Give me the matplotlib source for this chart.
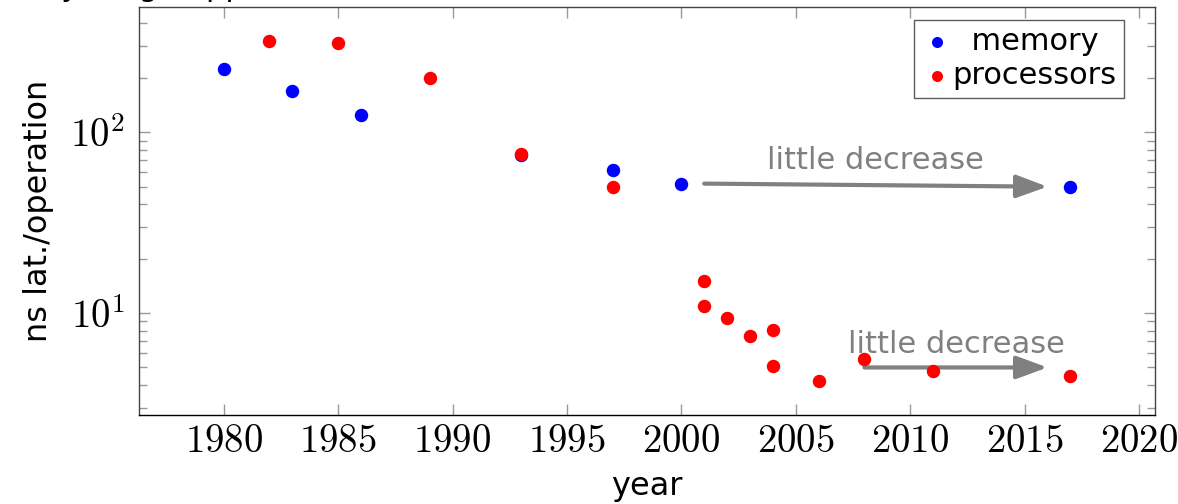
import matplotlib
matplotlib.use("Agg")
import matplotlib.pyplot as plt
from matplotlib.ticker import FuncFormatter, LogLocator, NullFormatter
import numpy as np

plt.rcParams["mathtext.fontset"] = "cm"
plt.rcParams["font.family"] = ["DejaVu Sans"]

# memory latency (ns) by year
mem_years = [1980, 1983, 1986, 1993, 1997, 2000, 2017]
mem_lat = [224, 170, 125, 75, 62, 52, 50]

# processor latency per operation (ns) by year
proc_years = [1982, 1985, 1989, 1993, 1997, 2001, 2001, 2002, 2003, 2004, 2004, 2006, 2008, 2011, 2017]
proc_lat = [319, 312, 199, 76, 50, 15, 11, 9.4, 7.5, 8.1, 5.1, 4.2, 5.6, 4.75, 4.5]

x_ticks = [1980, 1985, 1990, 1995, 2000, 2005, 2010, 2015, 2020]

# (start year, start value, end year, end value) for the two arrows
arrow_mem = (2001, 52, 2016, 50)
arrow_proc = (2008, 5.0, 2016, 5.0)
note_text = "little decrease"

fig = plt.figure(figsize=(11.78, 5.04), dpi=100)
ax = fig.add_axes([0.118, 0.1766, 0.8625, 0.8095])

ax.scatter(mem_years, mem_lat, s=75, color="blue", label="  memory", zorder=3)
ax.scatter(proc_years, proc_lat, s=75, color="red", label="processors", zorder=4)

ax.set_yscale("log")
ax.set_xlim(1976.3, 2020.7)
ax.set_ylim(10 ** 0.436, 10 ** 2.693)

ax.set_xticks(x_ticks)
ax.xaxis.set_major_formatter(FuncFormatter(lambda v, p: "$%d$" % v))
ax.yaxis.set_major_locator(LogLocator(base=10))
ax.yaxis.set_major_formatter(FuncFormatter(lambda v, p: "$10^{%d}$" % round(np.log10(v))))
ax.yaxis.set_minor_locator(LogLocator(base=10, subs=range(2, 10)))
ax.yaxis.set_minor_formatter(NullFormatter())

ax.tick_params(which="both", direction="in", color="#999999", width=1,
               top=True, right=True, labelsize=28)
ax.tick_params(axis="x", pad=5)
ax.tick_params(axis="y", pad=10)
ax.tick_params(which="major", length=8)
ax.tick_params(which="minor", length=5.5)
for s in ax.spines.values():
    s.set_color("#444444")
    s.set_linewidth(1)
ax.spines["bottom"].set_color("black")

ax.set_xlabel("year", fontsize=23, labelpad=8)
ax.set_ylabel("ns lat./operation", fontsize=23, labelpad=12)

for x0, y0, x1, y1 in (arrow_mem, arrow_proc):
    ax.annotate("", xy=(x1, y1), xytext=(x0, y0),
                arrowprops=dict(arrowstyle="-|>,head_length=1.9,head_width=0.7",
                                mutation_scale=10, color="gray", lw=3,
                                shrinkA=0, shrinkB=0), zorder=2)
    ax.text((x0 + x1) / 2, y0 * 1.12, note_text, color="gray", fontsize=22,
            ha="center", va="bottom", zorder=2)

leg = ax.legend(loc="upper right", bbox_to_anchor=(0.9695, 0.969), fontsize=22,
                frameon=True, fancybox=False, handletextpad=0.0,
                borderpad=0.25, labelspacing=0.15, handlelength=1.0,
                borderaxespad=0.0, markerscale=0.8)
leg.get_frame().set_edgecolor("#333333")
leg.get_frame().set_linewidth(1)

# heading above the plot, mostly cut off at the top edge as in the original
fig.text(0.0, 1.0 + 3.5 / 504, "(very rough approximation)", fontsize=22,
         ha="left", va="baseline")

fig.savefig("out.png", dpi=100)
